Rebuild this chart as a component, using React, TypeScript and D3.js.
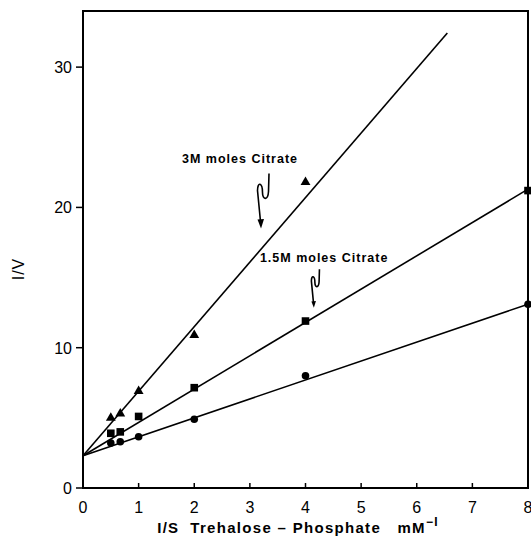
import { useEffect, useRef } from 'react';
import * as d3 from 'd3';

// readings from the figure (1/S in mM^-1, 1/V)
const xTicks = [0, 1, 2, 3, 4, 5, 6, 7, 8];
const yTicks = [0, 10, 20, 30];

const circleX = [0.5, 0.67, 1, 2, 4, 8];
const circleY = [3.2, 3.3, 3.65, 4.9, 8.0, 13.1];

const squareX = [0.5, 0.67, 1, 2, 4, 8];
const squareY = [3.9, 4.0, 5.1, 7.15, 11.9, 21.2];

const triangleX = [0.5, 0.67, 1, 2, 4];
const triangleY = [5.0, 5.3, 6.9, 10.9, 21.8];

// fitted lines, all through a common intercept
const intercept = 2.3;
const lineSlopes = [1.35, 2.375, 4.6];
const lineEndX = [8, 8, 6.55];

const labels = ['3M moles Citrate', '1.5M moles Citrate'];
const labelX = [1.78, 3.18];
const labelY = [23.2, 16.1];
const arrowTipX = [3.2, 4.15];
const arrowTipY = [18.5, 12.85];
const arrowScale = [1, 0.7];

export default function App() {
  const ref = useRef<SVGSVGElement>(null);

  useEffect(() => {
    const svg = d3.select(ref.current);
    svg.selectAll('*').remove();

    const x = d3.scaleLinear().domain([0, 8]).range([83, 528]);
    const y = d3.scaleLinear().domain([0, 34]).range([488, 11]);
    const font = "'Liberation Sans', Arial, sans-serif";

    // frame
    svg.append('rect')
      .attr('x', x(0)).attr('y', y(34))
      .attr('width', x(8) - x(0)).attr('height', y(0) - y(34))
      .attr('fill', 'none').attr('stroke', '#000').attr('stroke-width', 2);

    // x ticks (inside)
    const gx = svg.append('g');
    gx.selectAll('line').data(xTicks).enter().append('line')
      .attr('x1', d => x(d)).attr('x2', d => x(d))
      .attr('y1', y(0)).attr('y2', y(0) - 5)
      .attr('stroke', '#000').attr('stroke-width', 1.5);
    gx.selectAll('text').data(xTicks).enter().append('text')
      .attr('x', d => x(d)).attr('y', 513)
      .attr('text-anchor', 'middle')
      .attr('font-family', font).attr('font-size', 16)
      .text(d => d);

    // y ticks (outside)
    const gy = svg.append('g');
    gy.selectAll('line').data(yTicks).enter().append('line')
      .attr('x1', x(0) - 7).attr('x2', x(0))
      .attr('y1', d => y(d)).attr('y2', d => y(d))
      .attr('stroke', '#000').attr('stroke-width', 1.5);
    gy.selectAll('text').data(yTicks).enter().append('text')
      .attr('x', x(0) - 11).attr('y', d => y(d) + 6)
      .attr('text-anchor', 'end')
      .attr('font-family', font).attr('font-size', 16)
      .text(d => d);

    // axis titles
    svg.append('text')
      .attr('transform', `translate(24,${269}) rotate(-90)`)
      .attr('text-anchor', 'middle')
      .attr('font-family', font).attr('font-size', 16)
      .attr('letter-spacing', 1)
      .text('I/V');

    const xt = svg.append('text')
      .attr('x', 298).attr('y', 533)
      .attr('text-anchor', 'middle')
      .attr('font-family', font).attr('font-size', 15).attr('font-weight', 'bold')
      .attr('letter-spacing', 1.3)
      .style('white-space', 'pre');
    xt.append('tspan').text('I/S  Trehalose – Phosphate   mM');
    xt.append('tspan').attr('dy', -7).attr('font-size', 12).text('−I');

    // fitted lines
    const line = d3.line<number>().x(d => x(d[0])).y(d => y(d[1]));
    lineSlopes.forEach((s, i) => {
      svg.append('path')
        .datum([[0, intercept], [lineEndX[i], intercept + s * lineEndX[i]]] as any)
        .attr('d', line as any)
        .attr('fill', 'none').attr('stroke', '#000').attr('stroke-width', 1.6);
    });

    // markers
    const circles = circleX.map((d, i) => [d, circleY[i]]);
    svg.append('g').selectAll('circle').data(circles).enter().append('circle')
      .attr('cx', d => x(d[0])).attr('cy', d => y(d[1])).attr('r', 3.8).attr('fill', '#000');

    const squares = squareX.map((d, i) => [d, squareY[i]]);
    svg.append('g').selectAll('rect').data(squares).enter().append('rect')
      .attr('x', d => x(d[0]) - 3.8).attr('y', d => y(d[1]) - 3.8)
      .attr('width', 7.6).attr('height', 7.6).attr('fill', '#000');

    const tri = d3.symbol().type(d3.symbolTriangle).size(42);
    const triangles = triangleX.map((d, i) => [d, triangleY[i]]);
    svg.append('g').selectAll('path').data(triangles).enter().append('path')
      .attr('transform', d => `translate(${x(d[0])},${y(d[1])})`)
      .attr('d', tri() as string).attr('fill', '#000');

    // annotations
    labels.forEach((t, i) => {
      svg.append('text')
        .attr('x', x(labelX[i])).attr('y', y(labelY[i]))
        .attr('font-family', font).attr('font-size', 12.5).attr('font-weight', 'bold')
        .attr('letter-spacing', 1)
        .text(t);

      const g = svg.append('g')
        .attr('transform', `translate(${x(arrowTipX[i])},${y(arrowTipY[i])}) scale(${arrowScale[i]})`);
      g.append('path')
        .attr('d', 'M8,-55 L7.5,-37 C7,-28 1.5,-28 1.5,-36 C1.5,-46 -3.5,-47 -3.5,-38 L-0.5,-7')
        .attr('fill', 'none').attr('stroke', '#000').attr('stroke-width', 1.6 / arrowScale[i]);
      g.append('path')
        .attr('d', 'M-3.5,-9 L0,0 L3,-9.5 Z')
        .attr('fill', '#000');
    });
  }, []);

  return (
    <svg ref={ref} width={531} height={550} style={{ position: 'absolute', left: 0, top: 0, background: '#fff' }} />
  );
}
